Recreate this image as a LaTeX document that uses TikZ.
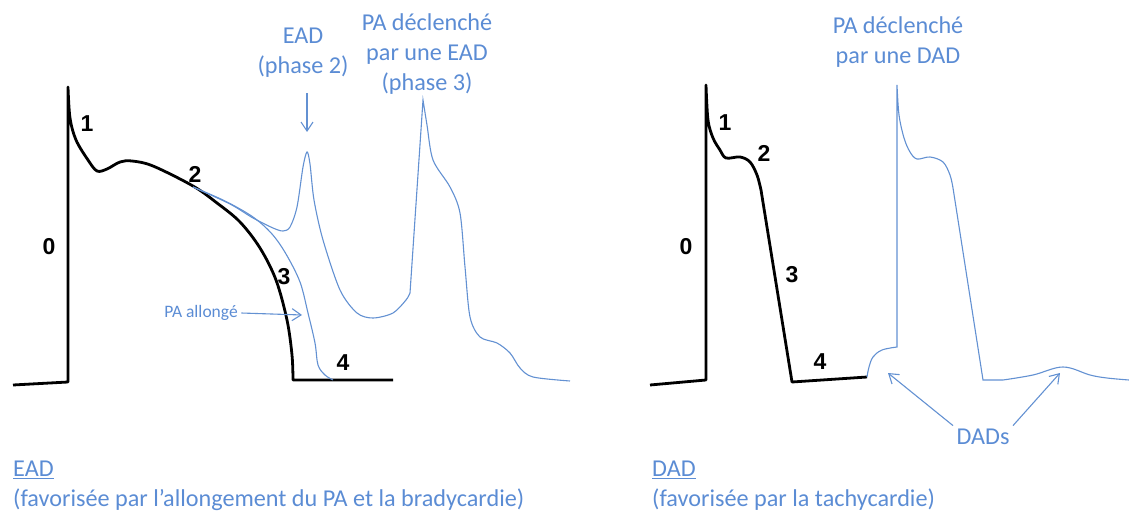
\documentclass[tikz,border=0pt]{standalone}
\usepackage{fontspec}
\setmainfont{Carlito}
\newfontfamily\numfont{Liberation Sans}
\usepackage{tikz}
\usetikzlibrary{arrows.meta, positioning}
\definecolor{apblue}{HTML}{5B8CD4}
\definecolor{lineblue}{HTML}{6391D2}

\begin{document}
\begin{tikzpicture}[
    x=1pt, y=-1pt,
    every node/.style={font=\fontsize{24.2}{30}\selectfont, text=apblue},
    phase/.style={font=\numfont\bfseries\fontsize{23}{24}\selectfont, text=black},
    note/.style={align=center},
    legend/.style={anchor=west, align=left, inner sep=0pt},
    ap/.style={line width=2.8pt, line join=round},
    trace/.style={draw=lineblue, line width=1.1pt},
    arrow/.style={draw=lineblue, line width=1.1pt, -{Straight Barb[length=9pt, width=12pt]}}
]
\useasboundingbox (0,0) rectangle (1129,513);

% EAD: potentiel d'action de base
\draw[ap] (13,385) -- (68,382) -- (68,87)
    -- plot[smooth, tension=0.55] coordinates {(68,87) (70,118) (76,140) (88,160) (97,171)
       (107,169) (120,162) (132,161) (153,166) (193,186) (217,203) (240,222) (260,248)
       (276,280) (287,320) (292,355) (293,380)}
    -- (393,380);

% PA allonge
\draw[trace] plot[smooth, tension=0.55] coordinates {(193,187) (225,201) (253,217) (272,234)
    (286,254) (300,282) (308,313) (315,343) (318,365) (325,375) (333,380)};

% EAD puis PA declenche
\draw[trace] plot[smooth, tension=0.5] coordinates {(193,187) (230,204) (253,218) (273,228)
    (283,231) (290,227) (297,207) (303,167) (307,152) (310,164) (314,200) (323,240)
    (340,290) (357,313) (373,318) (393,313) (406,300) (410,293)}
    -- (423,100)
    -- plot[smooth, tension=0.5] coordinates {(423,100) (427,125) (433,160) (450,187)
       (460,213) (465,267) (470,317) (480,337) (497,343) (510,353) (520,368) (533,377)
       (570,381)};

% DAD: potentiel d'action de base
\draw[ap] (650,385) -- (706,380) -- (706,85)
    -- plot[smooth, tension=0.55] coordinates {(706,85) (708,120) (713,138) (720,150)
       (726,158) (740,157) (750,162) (757,175) (761,190)}
    -- (792,382) -- (867,377);

% DAD et PA declenche
\draw[trace] plot[smooth, tension=0.6] coordinates {(867,377) (869,367) (873,357) (882,350) (897,347)}
    -- (897,85)
    -- plot[smooth, tension=0.55] coordinates {(897,85) (899,115) (904,138) (910,152)
       (917,159) (930,157) (943,162) (950,175) (953,188)}
    -- (983,380) -- (1003,380)
    -- plot[smooth, tension=0.6] coordinates {(1003,380) (1033,375) (1063,367) (1090,375)
       (1107,378) (1129,380)};

% numeros des phases
\node[phase] (p0a) at (49,247) {0};
\node[phase] (p1a) at (87,124) {1};
\node[phase] (p2a) at (195,174) {2};
\node[phase] (p3a) at (284,277) {3};
\node[phase] (p4a) at (343,363) {4};
\node[phase] (p0b) at (686,247) {0};
\node[phase] (p1b) at (725,123) {1};
\node[phase] (p2b) at (764,153) {2};
\node[phase] (p3b) at (792,275) {3};
\node[phase] (p4b) at (820,362) {4};

% annotations
\node[note] (ead2) at (303,53) {EAD\\(phase 2)};
\node[note] (trig1) at (427,54) {PA déclenché\\par une EAD\\(phase 3)};
\node[note] (trig2) at (898,42) {PA déclenché\\par une DAD};
\node[font=\fontsize{17.5}{19}\selectfont] (long) at (201,313) {PA allongé};
\node (dads) at (983,437) {DADs};

\coordinate (tip2) at (307,132);
\coordinate (tiplong) at (302,315);
\coordinate (dadL) at (888,373);
\coordinate (dadR) at (1060,373);

\draw[arrow] (ead2.south -| tip2) ++(0,12) -- (tip2);
\draw[arrow] (long.east) -- (tiplong);
\draw[arrow] (dads.north west) -- (dadL);
\draw[arrow] (dads.north east) -- (dadR);

% legendes
\node[legend] (legEAD) at (13,486) {\underline{EAD}\\(favorisée par l’allongement du PA et la bradycardie)};
\node[legend] (legDAD) at (652,486) {\underline{DAD}\\(favorisée par la tachycardie)};

\end{tikzpicture}
\end{document}
